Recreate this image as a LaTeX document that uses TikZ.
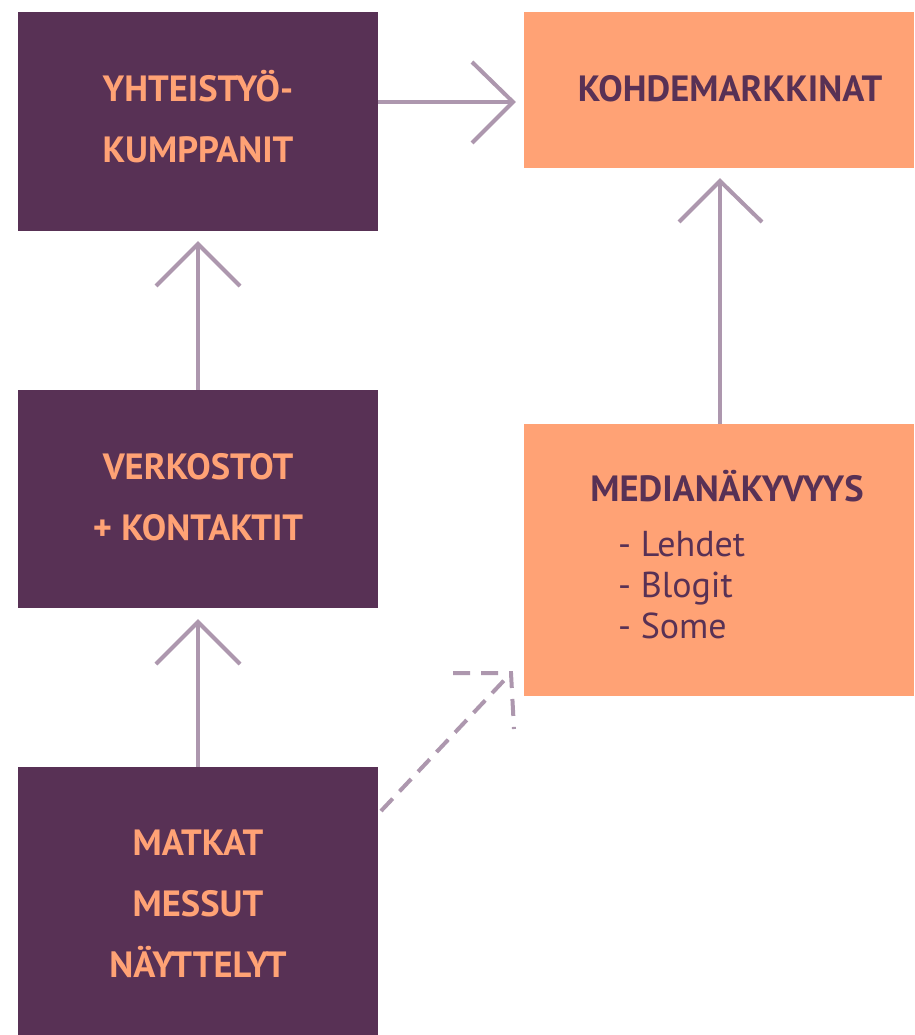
\documentclass[tikz,border=0pt]{standalone}
\usepackage{fontspec}
\setmainfont{PT Sans}
\usetikzlibrary{calc}
\definecolor{plum}{HTML}{583155}
\definecolor{peach}{HTML}{FFA275}
\definecolor{lilac}{HTML}{AD97AE}
\tikzset{
  darkbox/.style={fill=plum, draw=none, text=peach, align=center, inner sep=0pt,
    minimum width=360pt, font=\fontsize{36.5}{61}\selectfont\bfseries},
  lightbox/.style={fill=peach, draw=none, text=plum, inner sep=0pt, minimum width=390pt},
  title/.style={text=plum, font=\fontsize{36.5}{40}\selectfont\bfseries, inner sep=0pt, anchor=base},
  item/.style={text=plum, font=\fontsize{36}{40}\selectfont, inner sep=0pt, anchor=base west},
  conn/.style={draw=lilac, line width=4pt},
  dashconn/.style={conn, dash pattern=on 17pt off 10pt},
}
\begin{document}
\begin{tikzpicture}[x=1pt,y=-1pt]
\useasboundingbox[fill=white] (0,0) rectangle (914,1035);
% boxes
\node[darkbox, minimum height=219pt] (yht) at (198,121.5) {};
\node[darkbox, minimum height=218pt] (verk) at (198,499) {};
\node[darkbox, minimum height=268pt] (matk) at (198,901) {};
\node[darkbox, fill=none] (yhtt) at (198,117) {YHTEISTYÖ-\\KUMPPANIT};
\node[darkbox, fill=none] (verkt) at (198,497) {VERKOSTOT\\+ KONTAKTIT};
\node[darkbox, fill=none] (matkt) at (198,904) {MATKAT\\MESSUT\\NÄYTTELYT};
\node[lightbox, minimum height=156pt] (kohde) at (719,90) {};
\node[lightbox, minimum height=272pt] (media) at (719,560) {};
% texts in light boxes
\node[title] (kohdet) at (730,102) {KOHDEMARKKINAT};
\node[title] (mediat) at (727,501) {MEDIANÄKYVYYS};
\node[item] (l1) at (618,556) {- Lehdet};
\node[item] (l2) at (618,597) {- Blogit};
\node[item] (l3) at (618,638) {- Some};
% arrow tips
\coordinate (t1) at (513,102);
\coordinate (t2) at (198,244);
\coordinate (t3) at (198,622);
\coordinate (t4) at (720,181);
\coordinate (t5) at (511,673);
\coordinate (s5) at (381,811);
% connectors
\draw[conn] (yht.east |- t1) -- (t1);
\draw[conn, line join=miter] ($(t1)+(-41,-40)$) -- (t1) -- ($(t1)+(-41,41)$);
\draw[conn] (verk.north) -- (t2);
\draw[conn, line join=miter] ($(t2)+(-42,42)$) -- (t2) -- ($(t2)+(42,42)$);
\draw[conn] (matk.north) -- (t3);
\draw[conn, line join=miter] ($(t3)+(-42,42)$) -- (t3) -- ($(t3)+(42,42)$);
\draw[conn] (media.north -| t4) -- (t4);
\draw[conn, line join=miter] ($(t4)+(-41,41)$) -- (t4) -- ($(t4)+(42,41)$);
\draw[dashconn] (s5) -- (t5);
\draw[conn, dash pattern=on 17pt off 11pt, line join=miter] ($(t5)+(-58,0)$) -- (t5) -- ($(t5)+(3,56)$);
\end{tikzpicture}
\end{document}
